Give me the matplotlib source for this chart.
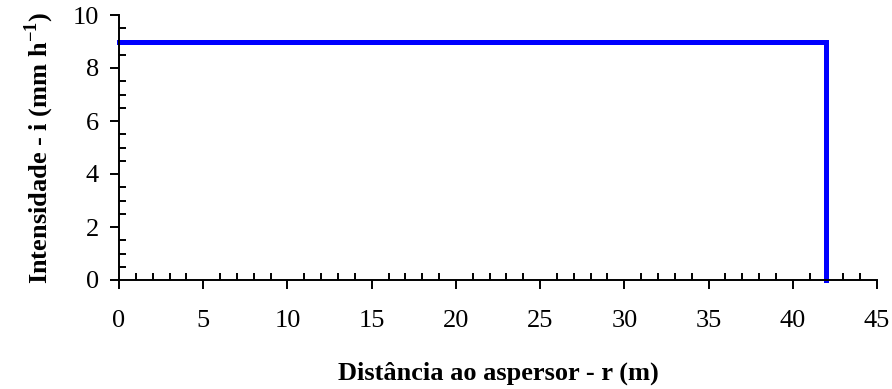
import matplotlib
matplotlib.use("Agg")
import matplotlib.pyplot as plt
from matplotlib.ticker import MultipleLocator

distance = [0, 42, 42]
intensity = [9.0, 9.0, 0]
xticks = [0, 5, 10, 15, 20, 25, 30, 35, 40, 45]
yticks = [0, 2, 4, 6, 8, 10]

plt.rcParams['font.family'] = ['Liberation Serif', 'DejaVu Serif']
plt.rcParams['mathtext.fontset'] = 'custom'
plt.rcParams['mathtext.rm'] = 'Liberation Serif'
plt.rcParams['mathtext.bf'] = 'Liberation Serif:bold'

W, H = 892, 389
fig = plt.figure(figsize=(W/100, H/100), dpi=100)
x0, x1, y0, y1 = 119, 877, 280, 15
ax = fig.add_axes([x0/W, 1-y0/H, (x1-x0)/W, (y0-y1)/H])
ax.plot(distance, intensity, color='#0000ff', lw=3.6, solid_joinstyle='miter', clip_on=False)
ax.set_xlim(0, 45)
ax.set_ylim(0, 10)
ax.set_xticks(xticks)
ax.set_yticks(yticks)
ax.xaxis.set_minor_locator(MultipleLocator(1))
ax.yaxis.set_minor_locator(MultipleLocator(0.5))
for s in ['top', 'right']:
    ax.spines[s].set_visible(False)
for s in ['left', 'bottom']:
    ax.spines[s].set_linewidth(1.4)
ax.tick_params(which='major', direction='out', length=6.5, width=1.4, labelsize=19)
ax.tick_params(axis='x', which='major', pad=15)
ax.tick_params(axis='y', which='major', pad=8)
ax.tick_params(which='minor', direction='in', length=5, width=1.4)
ax.set_xlabel('Distância ao aspersor - r (m)', fontsize=19, fontweight='bold', va='center')
ax.set_ylabel(r'Intensidade - i (mm h$^{\mathbf{-1}}$)', fontsize=19, fontweight='bold', va='center')
ax.xaxis.set_label_coords((498-x0)/(x1-x0), (y0-373)/(y0-y1))
ax.yaxis.set_label_coords((39-x0)/(x1-x0), 0.5)
fig.savefig('out.png', dpi=100)
